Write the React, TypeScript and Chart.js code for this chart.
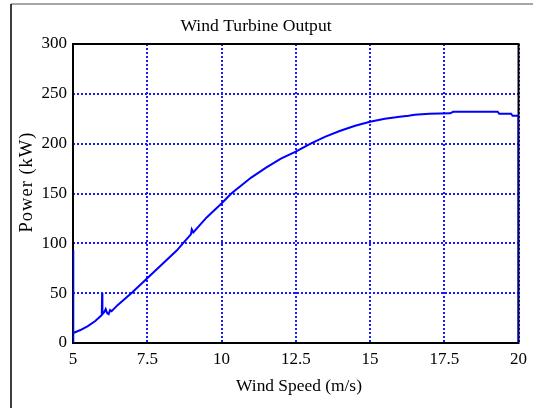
import React, { useEffect, useRef } from "react";
import { Chart, registerables } from "chart.js";
Chart.register(...registerables);

const windSpeed = [
  5, 5, 5.02, 5.25, 5.5, 5.75, 5.97, 5.98, 5.99, 6.05, 6.1, 6.15, 6.2, 6.25, 6.3,
  6.5, 7, 7.5, 8, 8.5, 8.7, 8.97, 9.0, 9.05, 9.5, 10, 10.33, 11, 11.5, 12, 12.5,
  13, 13.5, 14, 14.5, 15, 15.5, 16, 16.3, 16.5, 17, 17.7, 17.8, 19.3, 19.35,
  19.75, 19.8, 20, 20,
];
const power = [
  93, 0, 10, 13, 17, 22, 28, 50, 29, 31, 34, 30, 29, 33, 32,
  38, 51, 65, 79, 93, 100, 109, 114, 111, 126, 140, 150, 166, 176, 185, 192,
  200, 207, 213, 218, 222, 225, 227, 228, 229, 230, 230.5, 232, 232, 230,
  230, 228, 228, 0,
];
const xTickValues = [5, 7.5, 10, 12.5, 15, 17.5, 20];
const yTickValues = [0, 50, 100, 150, 200, 250, 300];
const titleText = "Wind Turbine Output";
const xTitle = "Wind Speed (m/s)";
const yTitle = "Power (kW)";

const FONT = '"Liberation Serif", "Times New Roman", serif';

export default function App() {
  const ref = useRef<HTMLCanvasElement>(null);
  useEffect(() => {
    document.body.style.margin = "0";
    const canvas = ref.current;
    if (!canvas) return;
    const decor = {
      id: "decor",
      beforeDraw(chart: any) {
        const ctx = chart.ctx;
        ctx.save();
        ctx.fillStyle = "#ffffff";
        ctx.fillRect(0, 0, chart.width, chart.height);
        ctx.strokeStyle = "#888888";
        ctx.lineWidth = 1.5;
        ctx.beginPath();
        ctx.moveTo(11, 4);
        ctx.lineTo(chart.width, 4);
        ctx.stroke();
        ctx.strokeStyle = "#000000";
        ctx.beginPath();
        ctx.moveTo(11, 4);
        ctx.lineTo(11, chart.height);
        ctx.stroke();
        ctx.restore();
      },
      beforeDatasetsDraw(chart: any) {
        const { ctx, chartArea: a } = chart;
        ctx.save();
        ctx.strokeStyle = "#000000";
        ctx.lineWidth = 2;
        ctx.strokeRect(a.left, a.top, a.right - a.left, a.bottom - a.top);
        ctx.restore();
      },
      afterDraw(chart: any) {
        const ctx = chart.ctx;
        ctx.save();
        ctx.fillStyle = "#000000";
        ctx.textAlign = "center";
        ctx.textBaseline = "middle";
        ctx.font = `17.6px ${FONT}`;
        ctx.fillText(titleText, 256, 26);
        ctx.font = `17.4px ${FONT}`;
        ctx.fillText(xTitle, 299, 386);
        ctx.translate(27, 182);
        ctx.rotate(-Math.PI / 2);
        ctx.font = `18.5px ${FONT}`;
        try {
          (ctx as any).letterSpacing = "1px";
        } catch (e) {}
        ctx.fillText(yTitle, 0, 0);
        ctx.restore();
      },
    };
    const chart = new Chart(canvas, {
      type: "scatter",
      data: {
        datasets: [
          {
            data: windSpeed.map((x, i) => ({ x, y: power[i] })),
            showLine: true,
            borderColor: "#0000ff",
            borderWidth: 2,
            pointRadius: 0,
            tension: 0,
          },
        ],
      },
      options: {
        animation: false,
        responsive: false,
        layout: { padding: { top: 44, right: 14, left: 0, bottom: 0 } },
        plugins: { legend: { display: false }, tooltip: { enabled: false } },
        scales: {
          x: {
            type: "linear",
            min: 5,
            max: 20,
            afterBuildTicks: (s: any) => {
              s.ticks = xTickValues.map((v) => ({ value: v }));
            },
            afterFit: (s: any) => {
              s.height = 65;
            },
            grid: { color: "#1a1aff", lineWidth: 2, drawTicks: false },
            border: { display: false, dash: [2, 2] },
            ticks: {
              color: "#000000",
              font: { family: FONT, size: 17 },
              padding: 6,
              maxRotation: 0,
              autoSkip: false,
              callback: (v: any) => String(v),
            },
          },
          y: {
            type: "linear",
            min: 0,
            max: 300,
            afterBuildTicks: (s: any) => {
              s.ticks = yTickValues.map((v) => ({ value: v }));
            },
            afterFit: (s: any) => {
              s.width = 73;
            },
            grid: { color: "#1a1aff", lineWidth: 2, drawTicks: false },
            border: { display: false, dash: [2, 2] },
            ticks: {
              color: "#000000",
              font: { family: FONT, size: 17 },
              padding: 6,
              autoSkip: false,
              callback: (v: any) => String(v),
            },
          },
        },
      },
      plugins: [decor],
    });
    return () => chart.destroy();
  }, []);
  return (
    <div style={{ width: 533, height: 408 }}>
      <canvas ref={ref} width={533} height={408} />
    </div>
  );
}
